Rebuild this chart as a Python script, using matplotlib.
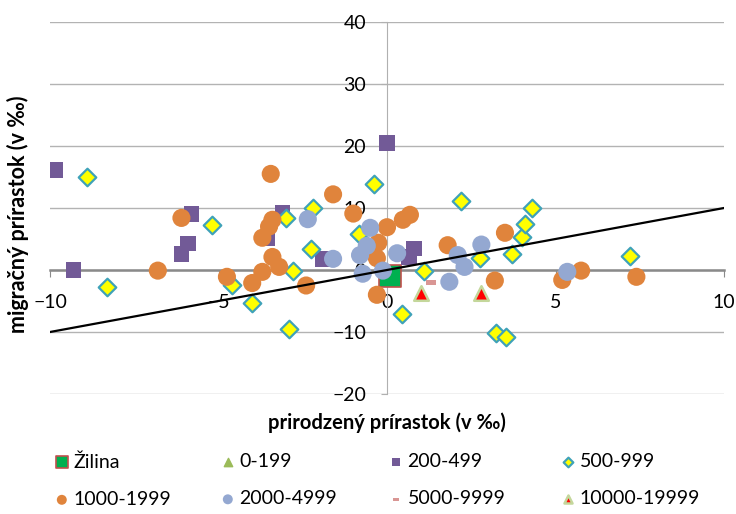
import matplotlib
matplotlib.use("Agg")
import matplotlib.pyplot as plt
from matplotlib.path import Path

plt.rcParams["font.family"] = ["Lato", "DejaVu Sans"]

# series data (prirodzený prírastok x, migračný prírastok y), v ‰
zilina_x = [0.1]
zilina_y = [-0.9]

s0_199_x = []
s0_199_y = []

s200_499_x = [-9.85, -9.3, -5.8, -5.9, -6.1, -3.1, -3.55, -1.9, 0.0, 0.8, 0.65]
s200_499_y = [16.1, 0.0, 9.0, 4.3, 2.6, 9.3, 5.2, 1.8, 20.5, 3.5, 2.1]

s500_999_x = [-8.9, -8.3, -5.2, -4.6, -4.0, -2.9, -3.0, -2.2, -2.8, -2.25, -0.4, -0.83,
              1.1, 0.45, 2.2, 2.76, 3.7, 4.0, 4.1, 4.3, 7.2, 3.23, 3.53]
s500_999_y = [15.0, -2.7, 7.3, -2.4, -5.3, -9.5, 8.4, 10.0, -0.1, 3.4, 13.9, 5.8,
              -0.1, -7.1, 11.1, 1.9, 2.6, 5.3, 7.4, 10.0, 2.3, -10.2, -10.8]

s1000_1999_x = [-6.1, -6.8, -4.75, -4.0, -3.45, -3.4, -3.5, -3.7, -3.4, -3.2, -3.7, -1.6,
                -1.0, -2.4, 0.0, -0.26, -0.3, -0.3, 0.47, 0.68, 1.8, 3.5, 3.2, 5.2, 5.76, 7.4]
s1000_1999_y = [8.4, -0.1, -1.1, -2.1, 15.5, 8.1, 7.0, 5.2, 2.1, 0.5, -0.3, 12.2,
                9.1, -2.5, 6.9, 4.4, 1.9, -4.0, 8.1, 8.9, 4.0, 6.0, -1.7, -1.6, -0.1, -1.1]

s2000_4999_x = [-2.35, -1.6, -0.5, -0.6, -0.8, -0.72, -0.12, 0.3, 1.85, 2.1, 2.3, 2.8, 5.35]
s2000_4999_y = [8.2, 1.8, 6.8, 3.9, 2.4, -0.6, -0.1, 2.7, -1.9, 2.4, 0.5, 4.1, -0.3]

s5000_9999_x = [1.3]
s5000_9999_y = [-2.0]

s10000_19999_x = [1.0, 2.8]
s10000_19999_y = [-3.7, -3.7]

line_x = [-10, 10]
line_y = [-10, 10]

dash = Path([(-1, -0.45), (1, -0.45), (1, 0.45), (-1, 0.45), (-1, -0.45)],
            [Path.MOVETO, Path.LINETO, Path.LINETO, Path.LINETO, Path.CLOSEPOLY])

fig = plt.figure(figsize=(7.36, 5.14), dpi=100)
ax = fig.add_axes([50 / 736, 1 - 394 / 514, 674 / 736, 372 / 514])

h1 = ax.scatter(zilina_x, zilina_y, marker="s", s=230, color="#00B050",
                edgecolors="#C0504D", linewidths=1.2, label="Žilina", zorder=3)
h2 = ax.scatter(s0_199_x, s0_199_y, marker="^", s=120, color="#9BBB59",
                label="0-199", zorder=3)
h3 = ax.scatter(s200_499_x, s200_499_y, marker="s", s=125, color="#725A97",
                edgecolors="none", label="200-499", zorder=3)
h4 = ax.scatter(s500_999_x, s500_999_y, marker="D", s=80, color="#FFFF00",
                edgecolors="#3FA2B8", linewidths=1.6, label="500-999", zorder=3)
h5 = ax.scatter(s1000_1999_x, s1000_1999_y, marker="o", s=170, color="#E0843C",
                edgecolors="none", label="1000-1999", zorder=3)
h6 = ax.scatter(s2000_4999_x, s2000_4999_y, marker="o", s=170, color="#94A8D1",
                edgecolors="none", label="2000-4999", zorder=3)
h7 = ax.scatter(s5000_9999_x, s5000_9999_y, marker=dash, s=55, color="#D99694",
                edgecolors="none", label="5000-9999", zorder=3)
h8 = ax.scatter(s10000_19999_x, s10000_19999_y, marker="^", s=110, color="#FF0000",
                edgecolors="#C4D79B", linewidths=1.8, label="10000-19999", zorder=3)

ax.plot(line_x, line_y, color="black", lw=1.6, zorder=4)

ax.set_xlim(-10, 10)
ax.set_ylim(-20, 40)
ax.set_xticks(range(-10, 11, 5))
ax.set_yticks(range(-20, 41, 10))

ax.spines["top"].set_visible(False)
ax.spines["right"].set_visible(False)
ax.spines["left"].set_position(("data", 0))
ax.spines["bottom"].set_position(("data", 0))
ax.spines["left"].set_color("#b0b0b0")
ax.spines["bottom"].set_color("#8a8a8a")
ax.spines["bottom"].set_linewidth(1.8)
ax.spines["bottom"].set_zorder(2)

ax.yaxis.grid(True, color="#b3b3b3", lw=1)
ax.set_axisbelow(True)
ax.tick_params(axis="y", direction="out", length=4, color="#b0b0b0", pad=11, labelsize=14)
ax.tick_params(axis="x", direction="out", length=5, color="#8a8a8a", pad=12, labelsize=14)

fig.text(18 / 736, 1 - 214 / 514, "migračný prírastok (v ‰)", rotation=90,
         ha="center", va="center", fontsize=15.5, fontweight="bold")
fig.text(387 / 736, 1 - 423 / 514, "prirodzený prírastok (v ‰)",
         ha="center", va="center", fontsize=14.5, fontweight="bold")

# one small legend per column so the columns sit where the reference has them
columns = [[h1, h5], [h2, h6], [h3, h7], [h4, h8]]
col_x = [55, 221, 389, 561]
for hs, cx in zip(columns, col_x):
    leg = fig.legend(handles=hs, labels=[h.get_label() for h in hs],
                     loc="upper left", bbox_to_anchor=(cx / 736, 1 - 453 / 514),
                     frameon=False, fontsize=14, markerscale=0.55, handlelength=0.7,
                     handletextpad=0.25, labelspacing=1.05, borderaxespad=0, borderpad=0)

fig.savefig("out.png", dpi=100)
